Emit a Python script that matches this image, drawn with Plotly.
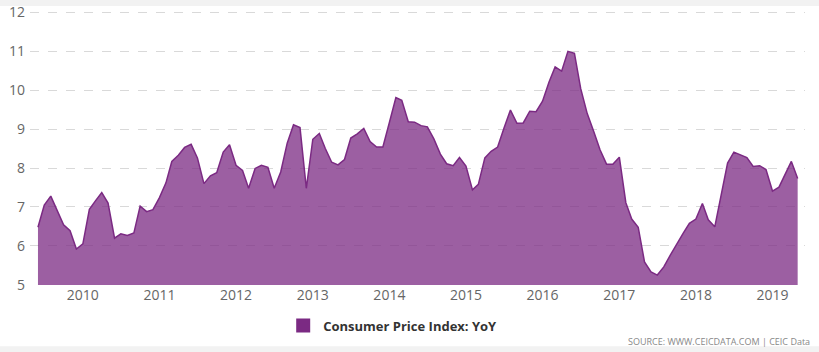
import plotly.graph_objects as go
import pandas as pd

start_month = "2009-06-01"
cpi_yoy = [
    # 2009 Jun-Dec
    6.48, 7.05, 7.28, 6.90, 6.54, 6.39, 5.92,
    # 2010
    6.05, 6.94, 7.15, 7.37, 7.10, 6.20, 6.31, 6.27, 6.33, 7.02, 6.88, 6.93,
    # 2011
    7.24, 7.62, 8.17, 8.33, 8.53, 8.61, 8.26, 7.60, 7.80, 7.88, 8.41, 8.60,
    # 2012
    8.07, 7.94, 7.48, 7.99, 8.07, 8.02, 7.48, 7.90, 8.64, 9.11, 9.04, 7.48,
    # 2013
    8.74, 8.89, 8.51, 8.15, 8.08, 8.22, 8.77, 8.88, 9.02, 8.68, 8.54, 8.54,
    # 2014
    9.17, 9.81, 9.74, 9.19, 9.18, 9.09, 9.06, 8.75, 8.36, 8.11, 8.06, 8.27,
    # 2015
    8.05, 7.44, 7.58, 8.26, 8.43, 8.54, 9.02, 9.49, 9.15, 9.16, 9.46, 9.45,
    # 2016
    9.72, 10.21, 10.60, 10.49, 11.00, 10.95, 10.04, 9.40, 8.94, 8.47, 8.10, 8.10,
    # 2017
    8.28, 7.11, 6.69, 6.48, 5.59, 5.33, 5.25, 5.46, 5.76, 6.05, 6.32, 6.58,
    # 2018
    6.69, 7.09, 6.67, 6.49, 7.28, 8.13, 8.41, 8.33, 8.27, 8.04, 8.06, 7.96,
    # 2019 Jan-May
    7.41, 7.51, 7.83, 8.17, 7.73,
]
months = pd.date_range(start_month, periods=len(cpi_yoy), freq="MS")

year_ticks = [f"{y}-01-01" for y in range(2010, 2020)]
year_labels = [str(y) for y in range(2010, 2020)]
y_ticks = [5, 6, 7, 8, 9, 10, 11, 12]

series_name = "Consumer Price Index: YoY"
line_color = "rgb(123,42,131)"
fill_color = "rgba(123,42,131,0.75)"

TOP = 2
PLOT_H = 352 - TOP - 67  # plot area height in px

fig = go.Figure()
fig.add_trace(go.Scatter(
    x=months, y=cpi_yoy, mode="lines", name=series_name,
    line=dict(color=line_color, width=1.5),
    fill="tozeroy", fillcolor=fill_color, showlegend=False,
))
# legend entry with a square swatch
fig.add_trace(go.Scatter(
    x=[None], y=[None], mode="markers", name=series_name,
    marker=dict(symbol="square", size=14, color=line_color),
    showlegend=True,
))

fig.update_layout(
    width=819, height=352,
    margin=dict(l=30, r=14, t=TOP, b=67),
    paper_bgcolor="white", plot_bgcolor="white",
    showlegend=True,
    legend=dict(orientation="h", x=0.468, xanchor="center", y=-(326 - 285) / PLOT_H, yanchor="middle",
                font=dict(family="Open Sans", size=13, color="#333333", weight="bold"),
                itemwidth=30),
    font=dict(family="Open Sans", size=14, color="#666666"),
    xaxis=dict(
        type="date",
        range=["2009-04-24", "2019-06-05"],
        tickvals=year_ticks, ticktext=year_labels,
        showgrid=False, zeroline=False, showline=False, ticks="",
        tickfont=dict(family="Open Sans", size=14, color="#666666"),
    ),
    yaxis=dict(
        range=[4.995, 12.19], tickvals=y_ticks,
        showgrid=True, gridcolor="#d9d9d9", griddash="dash", gridwidth=1,
        zeroline=False, showline=False, ticks="",
        tickfont=dict(family="Open Sans", size=14, color="#666666"),
        ticklabelstandoff=4, ticklabeloverflow="allow",
    ),
    shapes=[
        dict(type="rect", xref="paper", yref="paper", x0=-0.1, x1=1.1,
             y0=1 + (TOP - 3) / PLOT_H, y1=1.1, fillcolor="#f2f2f2", line=dict(width=0), layer="below"),
        dict(type="rect", xref="paper", yref="paper", x0=-0.1, x1=1.1,
             y0=-0.4, y1=-(347 - 285) / PLOT_H, fillcolor="#f2f2f2", line=dict(width=0), layer="below"),
    ],
    annotations=[
        dict(text="SOURCE: WWW.CEICDATA.COM | CEIC Data", xref="paper", yref="paper",
             x=(812 - 30) / 775, y=-(342 - 285) / PLOT_H, xanchor="right", yanchor="middle",
             showarrow=False, font=dict(family="Open Sans", size=9, color="#888888")),
    ],
)

fig.write_html("out.html")
